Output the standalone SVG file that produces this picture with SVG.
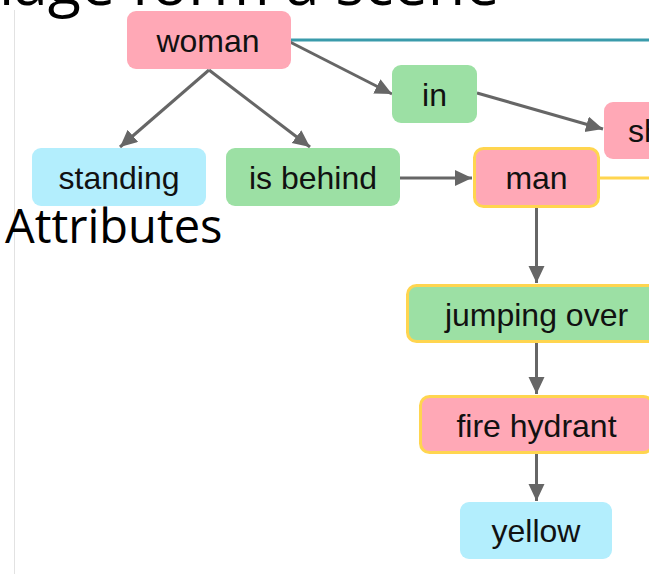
<svg xmlns="http://www.w3.org/2000/svg" width="649" height="574" viewBox="0 0 649 574">
  <style>
    .node { stroke: none; }
    .obj { fill: #ffa8b6; }
    .rel { fill: #9ce0a4; }
    .attr { fill: #b3eefd; }
    .hl { stroke: #ffd54f; stroke-width: 3; }
    .lbl { font-family: "Liberation Sans", Arial, sans-serif; font-size: 32px; fill: #111; text-anchor: middle; }
    .slide { font-family: "Open Sans", "Liberation Sans", sans-serif; fill: #000; }
    .edge { stroke: #666; stroke-width: 3; fill: none; }
  </style>
  <defs>
    <marker id="arrow" markerUnits="userSpaceOnUse" markerWidth="19" markerHeight="18" refX="17" refY="8" orient="auto">
      <path d="M0,0 L17,8 L0,16 Z" fill="#666"/>
    </marker>
  </defs>

  <rect width="649" height="574" fill="#fff"/>
  <!-- slide margin rule -->
  <line x1="14.5" y1="10" x2="14.5" y2="574" stroke="#e2e2e2" stroke-width="1"/>

  <!-- slide title (bottom of the line, cut by the frame) and section heading -->
  <text class="slide" x="-58" y="5" font-size="61">image form a scene</text>
  <text class="slide" x="5" y="243" font-size="47">Attributes</text>

  <!-- connectors -->
  <g id="connectors">
    <line x1="290" y1="40" x2="649" y2="40" stroke="#3a9bab" stroke-width="3"/>
    <line x1="600" y1="178" x2="649" y2="178" stroke="#ffd54f" stroke-width="3"/>
    <line class="edge" x1="209" y1="70" x2="120" y2="147" marker-end="url(#arrow)"/>
    <line class="edge" x1="209" y1="70" x2="310" y2="147" marker-end="url(#arrow)"/>
    <line class="edge" x1="290" y1="42" x2="392" y2="94" marker-end="url(#arrow)"/>
    <line class="edge" x1="477" y1="93" x2="603" y2="129" marker-end="url(#arrow)"/>
    <line class="edge" x1="400" y1="178" x2="472" y2="178" marker-end="url(#arrow)"/>
    <line class="edge" x1="536.5" y1="208" x2="536.5" y2="283" marker-end="url(#arrow)"/>
    <line class="edge" x1="536.5" y1="343" x2="536.5" y2="394" marker-end="url(#arrow)"/>
    <line class="edge" x1="536.5" y1="454" x2="536.5" y2="501" marker-end="url(#arrow)"/>
  </g>

  <!-- nodes -->
  <g id="n-woman">
    <rect class="node obj" x="127" y="11" width="164" height="58" rx="9"/>
    <text class="lbl" x="208" y="52">woman</text>
  </g>
  <g id="n-in">
    <rect class="node rel" x="392" y="65" width="85" height="58" rx="9"/>
    <text class="lbl" x="434.5" y="106">in</text>
  </g>
  <g id="n-shirt">
    <rect class="node obj" x="604" y="102" width="70" height="57" rx="9"/>
    <text class="lbl" x="628" y="142" style="text-anchor:start">shirt</text>
  </g>
  <g id="n-standing">
    <rect class="node attr" x="32" y="148" width="174" height="58" rx="9"/>
    <text class="lbl" x="119" y="189">standing</text>
  </g>
  <g id="n-isbehind">
    <rect class="node rel" x="226" y="148" width="174" height="58" rx="9"/>
    <text class="lbl" x="313" y="189">is behind</text>
  </g>
  <g id="n-man">
    <rect class="obj hl" x="474.5" y="148.5" width="124" height="58" rx="9"/>
    <text class="lbl" x="536.5" y="189">man</text>
  </g>
  <g id="n-jumping">
    <rect class="rel hl" x="407.5" y="285.5" width="258" height="56" rx="9"/>
    <text class="lbl" x="536.5" y="326">jumping over</text>
  </g>
  <g id="n-hydrant">
    <rect class="obj hl" x="420.5" y="396.5" width="232" height="56" rx="9"/>
    <text class="lbl" x="536.5" y="437">fire hydrant</text>
  </g>
  <g id="n-yellow">
    <rect class="node attr" x="460" y="502" width="152" height="57" rx="9"/>
    <text class="lbl" x="536" y="542">yellow</text>
  </g>
</svg>
